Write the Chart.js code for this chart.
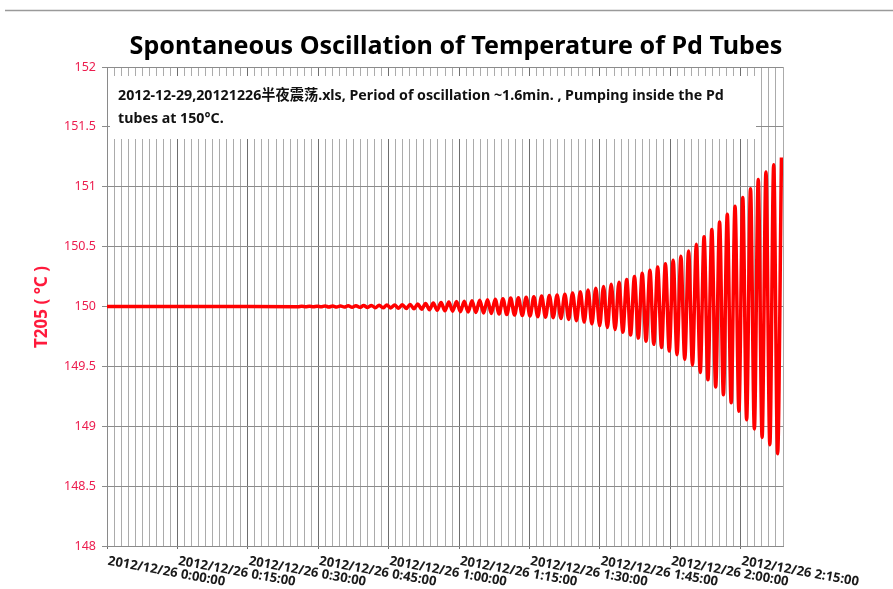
<!DOCTYPE html>
<html>
<head>
<meta charset="utf-8">
<script src="https://cdn.jsdelivr.net/npm/chart.js@4.4.1/dist/chart.umd.min.js"></script>
<style>
  html, body { margin: 0; padding: 0; background: #fff; }
  #wrap { width: 893px; height: 589px; }
</style>
</head>
<body>
<div id="wrap"><canvas id="oscChart" width="893" height="589"></canvas></div>
<script>
const chartTitle = 'Spontaneous Oscillation of Temperature of Pd Tubes';
const noteLines = [
    '2012-12-29,20121226半夜震荡.xls, Period of oscillation ~1.6min. , Pumping inside the Pd',
    'tubes at 150°C.'
];
const yAxisTitle = 'T205 ( °C )';

// x axis: minutes after 2012/12/26 0:00:00
const xTickMinutes = [0, 15, 30, 45, 60, 75, 90, 105, 120, 135];
const xTickLabels = [
    '2012/12/26 0:00:00', '2012/12/26 0:15:00', '2012/12/26 0:30:00', '2012/12/26 0:45:00',
    '2012/12/26 1:00:00', '2012/12/26 1:15:00', '2012/12/26 1:30:00', '2012/12/26 1:45:00',
    '2012/12/26 2:00:00', '2012/12/26 2:15:00'
];

// turning points of the trace
const minutes = [
    0, 20,
    40.67, 41.49, 42.32, 43.14, 43.97, 44.79, 45.61, 46.44, 47.26, 48.09,
    48.91, 49.73, 50.56, 51.38, 52.21, 53.03, 53.85, 54.68, 55.50, 56.33,
    57.15, 57.97, 58.80, 59.62, 60.45, 61.27, 62.09, 62.92, 63.74, 64.57,
    65.39, 66.21, 67.04, 67.86, 68.69, 69.51, 70.33, 71.16, 71.98, 72.81,
    73.63, 74.45, 75.28, 76.10, 76.93, 77.75, 78.57, 79.40, 80.22, 81.05,
    81.87, 82.69, 83.52, 84.34, 85.17, 85.99, 86.81, 87.64, 88.46, 89.29,
    90.11, 90.93, 91.76, 92.58, 93.41, 94.23, 95.05, 95.88, 96.70, 97.53,
    98.35, 99.17, 100.00, 100.82, 101.65, 102.47, 103.29, 104.12, 104.94, 105.77,
    106.59, 107.41, 108.24, 109.06, 109.89, 110.71, 111.53, 112.36, 113.18, 114.01,
    114.83, 115.65, 116.48, 117.30, 118.13, 118.95, 119.77, 120.60, 121.42, 122.25,
    123.07, 123.89, 124.72, 125.54, 126.37, 127.19, 128.01, 128.84, 129.66, 130.49,
    131.31, 132.13, 132.96, 133.78, 134.61, 135.43, 136.25, 137.08, 137.90, 138.73,
    139.55, 140.37, 141.20, 142.02, 142.85, 143.67
];
const t205 = [
    150, 150,
    149.998, 150.002, 149.998, 150.003, 149.997, 150.003, 149.997, 150.004, 149.996, 150.004,
    149.995, 150.005, 149.995, 150.006, 149.994, 150.007, 149.993, 150.008, 149.992, 150.009,
    149.990, 150.010, 149.989, 150.012, 149.988, 150.013, 149.986, 150.015, 149.984, 150.017,
    149.981, 150.021, 149.977, 150.025, 149.973, 150.029, 149.969, 150.033, 149.965, 150.037,
    149.961, 150.041, 149.957, 150.044, 149.954, 150.048, 149.950, 150.052, 149.946, 150.056,
    149.942, 150.061, 149.937, 150.065, 149.933, 150.070, 149.928, 150.074, 149.924, 150.078,
    149.920, 150.082, 149.915, 150.087, 149.911, 150.091, 149.907, 150.096, 149.900, 150.103,
    149.892, 150.113, 149.882, 150.124, 149.870, 150.137, 149.856, 150.152, 149.840, 150.168,
    149.824, 150.185, 149.807, 150.202, 149.786, 150.226, 149.762, 150.251, 149.736, 150.277,
    149.710, 150.302, 149.684, 150.329, 149.658, 150.357, 149.628, 150.387, 149.598, 150.419,
    149.559, 150.463, 149.512, 150.519, 149.449, 150.582, 149.388, 150.642, 149.328, 150.705,
    149.263, 150.770, 149.196, 150.838, 149.126, 150.910, 149.055, 150.984, 148.978, 151.060,
    148.907, 151.124, 148.846, 151.184, 148.770, 151.245
];

const FONT = '"Noto Sans", "Noto Sans CJK SC", sans-serif';

function fitFont(ctx, text, weight, width) {
    ctx.font = `${weight} 20px ${FONT}`;
    const size = 20 * width / ctx.measureText(text).width;
    return `${weight} ${size.toFixed(2)}px ${FONT}`;
}

const decorPlugin = {
    id: 'decor',
    beforeDatasetsDraw(chart) {
        const ctx = chart.ctx;
        ctx.save();
        // note box sits over the grid
        ctx.fillStyle = '#fff';
        ctx.fillRect(110, 76, 646, 63);
        ctx.fillStyle = '#111';
        ctx.textBaseline = 'alphabetic';
        ctx.textAlign = 'left';
        ctx.font = fitFont(ctx, noteLines[0], 'bold', 606);
        ctx.fillText(noteLines[0], 118, 99.5);
        ctx.fillText(noteLines[1], 118, 123);
        ctx.restore();
    },
    afterDraw(chart) {
        const ctx = chart.ctx;
        const xScale = chart.scales.x;
        ctx.save();

        // rule across the top of the page
        ctx.strokeStyle = '#9a9a9a';
        ctx.lineWidth = 1.5;
        ctx.beginPath();
        ctx.moveTo(5, 10.5);
        ctx.lineTo(893, 10.5);
        ctx.stroke();

        // title
        ctx.fillStyle = '#000';
        ctx.textAlign = 'center';
        ctx.textBaseline = 'alphabetic';
        ctx.font = fitFont(ctx, chartTitle, 'bold', 653);
        ctx.fillText(chartTitle, 456, 54);

        // y axis title
        ctx.save();
        ctx.translate(42, 307);
        ctx.rotate(-Math.PI / 2);
        ctx.fillStyle = '#ff1a3c';
        ctx.textBaseline = 'middle';
        ctx.font = `bold 17px ${FONT}`;
        ctx.fillText(yAxisTitle, 0, 0);
        ctx.restore();

        // slanted time labels
        ctx.fillStyle = '#1a1a1a';
        ctx.textAlign = 'left';
        ctx.textBaseline = 'middle';
        const labelFont = fitFont(ctx, xTickLabels[0], 'bold', 119);
        xTickMinutes.forEach((m, i) => {
            const px = xScale.getPixelForValue(m);
            ctx.save();
            ctx.translate(px + 1, 561);
            ctx.rotate(10.3 * Math.PI / 180);
            ctx.font = labelFont;
            ctx.fillText(xTickLabels[i], 0, 0);
            ctx.restore();
        });
        ctx.restore();
    }
};

const ctx = document.getElementById('oscChart').getContext('2d');

new Chart(ctx, {
    type: 'line',
    data: {
        datasets: [{
            label: 'T205',
            data: minutes.map((m, i) => ({ x: m, y: t205[i] })),
            borderColor: '#ff0000',
            borderWidth: 3.5,
            pointRadius: 0,
            fill: false,
            cubicInterpolationMode: 'monotone'
        }]
    },
    options: {
        responsive: false,
        animation: false,
        layout: { padding: { left: 0, right: 110, top: 67, bottom: 40 } },
        plugins: {
            legend: { display: false },
            tooltip: { enabled: false }
        },
        scales: {
            x: {
                type: 'linear',
                min: 0,
                max: 144,
                afterFit: (scale) => { scale.height = 3; },
                ticks: { stepSize: 1.5, display: false, autoSkip: false },
                grid: {
                    color: (c) => (c.tick && Math.abs(c.tick.value % 15) < 1e-6) ? '#6e6e6e' : '#ababab',
                    tickColor: (c) => (c.tick && Math.abs(c.tick.value % 15) < 1e-6) ? '#6e6e6e' : 'rgba(0,0,0,0)',
                    tickLength: 3,
                    lineWidth: 1
                },
                border: { color: '#8a8a8a' }
            },
            y: {
                min: 148,
                max: 152,
                afterFit: (scale) => { scale.width = 107; },
                ticks: {
                    stepSize: 0.5,
                    color: '#ec1c4e',
                    padding: 6,
                    font: { family: FONT, size: 12.5 },
                    callback: (v) => String(v)
                },
                grid: { color: '#8c8c8c', tickColor: '#8c8c8c', tickLength: 5 },
                border: { color: '#8a8a8a' }
            }
        }
    },
    plugins: [decorPlugin]
});
</script>
</body>
</html>
